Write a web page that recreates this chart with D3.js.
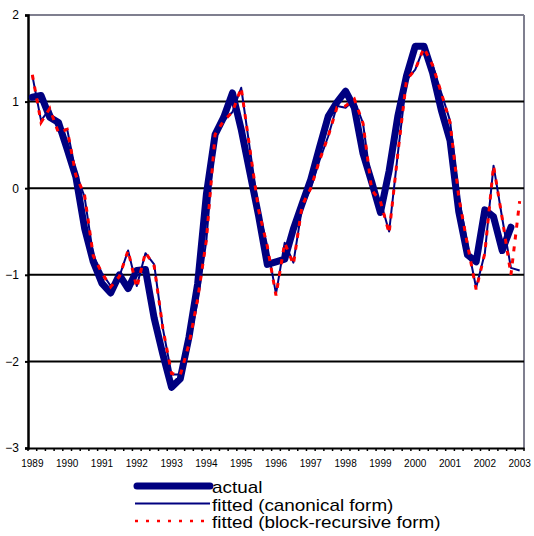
<!DOCTYPE html>
<html lang="en">
<head>
<meta charset="UTF-8">
<title>Actual vs fitted</title>
<style>
  body { margin: 0; background: #fff; }
  svg { font-family: "Liberation Sans", Arial, sans-serif; }
  .grid line { stroke: #000; stroke-width: 2; }
  .axis path, .axis line { stroke: #000; }
  .y.axis text { font-size: 12px; fill: #000; }
  .x.axis text { font-size: 10px; fill: #000; }
  .legend text { font-size: 16px; fill: #000; }
</style>
</head>
<body>
<svg width="534" height="536"></svg>
<script src="https://d3js.org/d3.v7.min.js"></script>
<script>
// quarterly observations, 1989Q1 .. 2003Q1
var years = d3.range(1989, 2004);
var quarters = [];
years.forEach(function(yr) {
    [1, 2, 3, 4].forEach(function(q) {
        if (yr < 2003 || q === 1) quarters.push(yr + "Q" + q);
    });
});

var yTicks = [-3, -2, -1, 0, 1, 2];
var gridValues = [-2, -1, 0, 1];

var actual = [1.05, 1.07, 0.82, 0.76, 0.45, 0.13, -0.46, -0.85,
              -1.10, -1.21, -1.00, -1.16, -0.95, -0.94, -1.50, -1.92,
              -2.30, -2.20, -1.72, -1.10, -0.07, 0.62, 0.82, 1.10,
              0.68, 0.18, -0.32, -0.88, -0.85, -0.82, -0.47, -0.18,
              0.10, 0.47, 0.83, 0.99, 1.12, 0.93, 0.40, 0.07,
              -0.28, 0.20, 0.83, 1.30, 1.64, 1.64, 1.33, 0.90,
              0.55, -0.27, -0.77, -0.85, -0.25, -0.33, -0.72, -0.45];

var canonical = [1.30, 0.78, 0.92, 0.66, 0.68, 0.18, -0.10, -0.78,
                 -0.98, -1.13, -1.02, -0.72, -1.13, -0.75, -0.88, -1.62,
                 -2.15, -2.15, -1.80, -1.30, -0.60, 0.63, 0.78, 0.88,
                 1.16, 0.45, -0.25, -0.67, -1.22, -0.63, -0.86, -0.22,
                 0.00, 0.32, 0.60, 0.95, 0.93, 1.02, 0.75, 0.00,
                 -0.15, -0.50, 0.40, 1.25, 1.37, 1.63, 1.42, 1.10,
                 0.78, -0.10, -0.65, -1.15, -0.75, 0.26, -0.35, -0.92,
                 -0.95];

var blockRecursive = [1.31, 0.76, 0.92, 0.64, 0.68, 0.15, -0.08, -0.78,
                      -0.98, -1.14, -1.02, -0.72, -1.15, -0.74, -0.90, -1.62,
                      -2.14, -2.16, -1.80, -1.28, -0.60, 0.62, 0.78, 0.88,
                      1.16, 0.45, -0.25, -0.67, -1.24, -0.63, -0.88, -0.20,
                      0.00, 0.32, 0.60, 0.93, 0.95, 1.03, 0.75, -0.02,
                      -0.15, -0.52, 0.40, 1.25, 1.37, 1.62, 1.42, 1.10,
                      0.76, -0.10, -0.65, -1.17, -0.75, 0.26, -0.35, -1.00,
                      -0.15];

var legendLabels = ["actual", "fitted (canonical form)", "fitted (block-recursive form)"];

var svg = d3.select("svg"),
    margin = {top: 15, right: 10, bottom: 88, left: 28};
var width = +svg.attr("width") - margin.left - margin.right;
var height = +svg.attr("height") - margin.top - margin.bottom;

var g = svg.append("g")
    .attr("transform", "translate(" + margin.left + "," + margin.top + ")");

var x = d3.scaleBand().domain(quarters).range([0, width]).padding(0);
var y = d3.scaleLinear().domain([-3, 2]).range([height, 0]);

function cx(i) { return x(quarters[i]) + x.bandwidth() / 2; }

// top and right frame
g.append("line").attr("x1", 0).attr("x2", width).attr("y1", 0).attr("y2", 0)
    .attr("stroke", "#7f7f8f").attr("stroke-width", 2);
g.append("line").attr("x1", width).attr("x2", width).attr("y1", 0).attr("y2", height)
    .attr("stroke", "#7f7f8f").attr("stroke-width", 2);

g.append("g").attr("class", "grid")
    .selectAll("line").data(gridValues).enter().append("line")
    .attr("x1", 0).attr("x2", width)
    .attr("y1", function(d) { return y(d); })
    .attr("y2", function(d) { return y(d); });

// x axis: labels every 4 quarters, little ticks on each quarter boundary
var yearTicks = quarters.filter(function(q) { return q.slice(4) === "Q1"; });
var xAxis = d3.axisBottom(x)
    .tickValues(yearTicks)
    .tickFormat(function(d) { return d.slice(0, 4); })
    .tickSize(0)
    .tickPadding(12);
var xg = g.append("g").attr("class", "x axis")
    .attr("transform", "translate(0," + height + ")")
    .call(xAxis);
xg.select(".domain").attr("stroke-width", 2);
xg.selectAll(".qtick").data(quarters.concat(["end"])).enter().append("line")
    .attr("class", "qtick")
    .attr("x1", function(d) { return d === "end" ? width : x(d); })
    .attr("x2", function(d) { return d === "end" ? width : x(d); })
    .attr("y1", 0).attr("y2", 3)
    .attr("stroke", "#000").attr("stroke-width", 1.5);

var yAxis = d3.axisLeft(y).tickValues(yTicks).tickSize(3).tickPadding(6)
    .tickFormat(d3.format("d"));
var yg = g.append("g").attr("class", "y axis").call(yAxis);
yg.select(".domain").attr("stroke-width", 2.5);
yg.selectAll(".tick line").attr("stroke-width", 2);

var line = d3.line()
    .x(function(d, i) { return cx(i); })
    .y(function(d) { return y(d); });

g.append("path").datum(actual)
    .attr("fill", "none").attr("stroke", "#000080").attr("stroke-width", 7)
    .attr("stroke-linejoin", "round").attr("stroke-linecap", "round")
    .attr("d", line);

g.append("path").datum(canonical)
    .attr("fill", "none").attr("stroke", "#000080").attr("stroke-width", 2)
    .attr("stroke-linejoin", "round")
    .attr("d", line);

g.append("path").datum(blockRecursive)
    .attr("fill", "none").attr("stroke", "#ff0000").attr("stroke-width", 3)
    .attr("stroke-dasharray", "5,7")
    .attr("d", line);

// legend
var legend = svg.append("g").attr("class", "legend")
    .attr("transform", "translate(135,486)");
var legendStyles = [
    {w: 7, dash: null, color: "#000080", cap: "round"},
    {w: 2, dash: null, color: "#000080", cap: "butt"},
    {w: 2.5, dash: "3,8", color: "#ff0000", cap: "butt"}
];
var rows = legend.selectAll("g").data(legendLabels).enter().append("g")
    .attr("transform", function(d, i) { return "translate(0," + (i * 17.5) + ")"; });
rows.append("line")
    .attr("x1", function(d, i) { return i === 0 ? 2 : 0; })
    .attr("x2", 75)
    .attr("y1", 0).attr("y2", 0)
    .attr("stroke", function(d, i) { return legendStyles[i].color; })
    .attr("stroke-width", function(d, i) { return legendStyles[i].w; })
    .attr("stroke-dasharray", function(d, i) { return legendStyles[i].dash; })
    .attr("stroke-linecap", function(d, i) { return legendStyles[i].cap; });
rows.append("text")
    .attr("transform", "translate(77,7) scale(1.18,1)")
    .text(function(d) { return d; });
</script>
</body>
</html>
